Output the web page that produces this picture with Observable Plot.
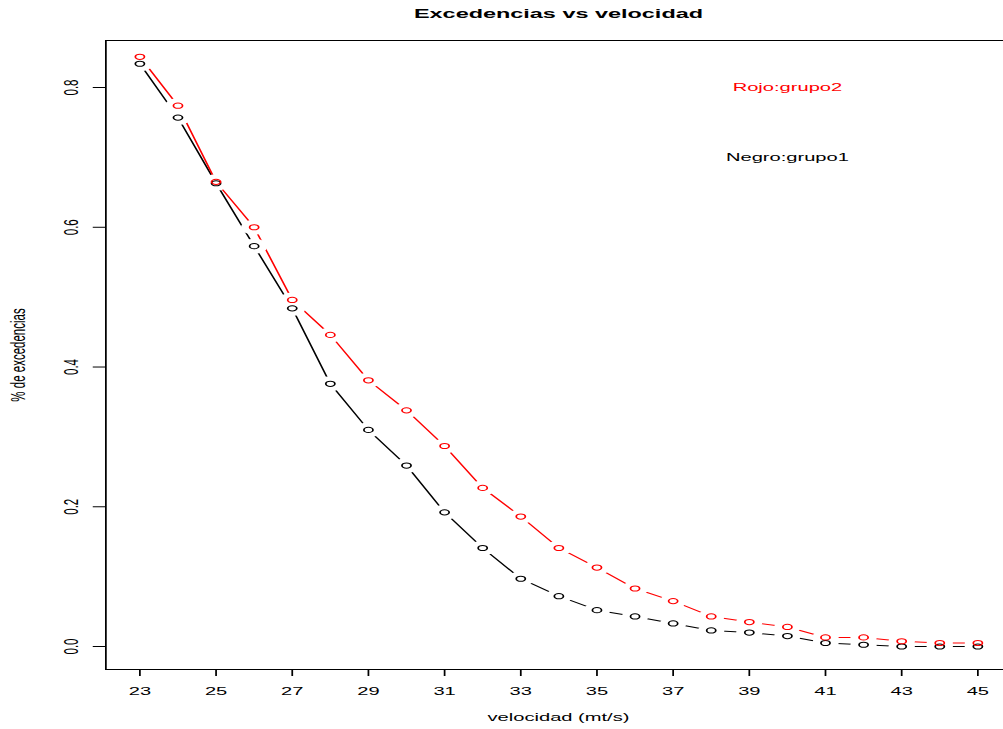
<!DOCTYPE html>
<html>
<head>
<meta charset="utf-8">
<script src="https://cdn.jsdelivr.net/npm/d3@7"></script>
<script src="https://cdn.jsdelivr.net/npm/@observablehq/plot@0.6"></script>
<style>
  html, body { margin: 0; padding: 0; background: white; }
  #chart { width: 1003px; height: 729px; overflow: hidden; }
</style>
</head>
<body>
<div id="chart"></div>
<script>
// ---- data ----
const velocidad = [23, 24, 25, 26, 27, 28, 29, 30, 31, 32, 33, 34, 35, 36, 37, 38, 39, 40, 41, 42, 43, 44, 45];
const grupo1 = [0.834, 0.757, 0.663, 0.573, 0.484, 0.376, 0.310, 0.259, 0.192, 0.141, 0.097, 0.072, 0.052, 0.043, 0.033, 0.023, 0.020, 0.015, 0.005, 0.0025, 0.0, 0.0, 0.0];
const grupo2 = [0.844, 0.774, 0.665, 0.600, 0.496, 0.446, 0.381, 0.338, 0.287, 0.227, 0.186, 0.141, 0.113, 0.083, 0.065, 0.043, 0.035, 0.028, 0.013, 0.013, 0.0075, 0.005, 0.005];
const xTicks = [23, 25, 27, 29, 31, 33, 35, 37, 39, 41, 43, 45];
const yTicks = [0, 0.2, 0.4, 0.6, 0.8];
const yTickLabels = ["0.0", "0.2", "0.4", "0.6", "0.8"];
const legendLabels = ["Rojo:grupo2", "Negro:grupo1"];
const legendColors = ["red", "black"];
const legendX = [40, 40];
const legendY = [0.8, 0.7];
const titleText = "Excedencias vs velocidad";
const xLabel = "velocidad (mt/s)";
const yLabel = "% de excedencias";

// ---- layout ----
const K = 1.75;                 // horizontal stretch of the reference image
const W = 1003 / K, H = 729;
const xDomain = [22.107, 45.683];
const yDomain = [-0.0329, 0.8673];
const xMid = 33.99;

const rows1 = velocidad.map((v, i) => ({v, p: grupo1[i], g: "grupo1"}));
const rows2 = velocidad.map((v, i) => ({v, p: grupo2[i], g: "grupo2"}));
const all = rows1.concat(rows2);
const legend = legendLabels.map((t, i) => ({t, c: legendColors[i], x: legendX[i], y: legendY[i]}));

const fs = 11.5;
const chart = Plot.plot({
  width: W,
  height: H,
  marginLeft: 105 / K,
  marginRight: 0,
  marginTop: 40,
  marginBottom: 60,
  style: {fontFamily: "'Liberation Sans', Arial, Helvetica, sans-serif", fontSize: fs + "px", background: "white", color: "black"},
  x: {domain: xDomain},
  y: {domain: yDomain},
  marks: [
    // box (left, top, bottom)
    Plot.ruleX([xDomain[0]], {stroke: "black", strokeWidth: 1}),
    Plot.ruleY([yDomain[0], yDomain[1]], {stroke: "black", strokeWidth: 1}),
    Plot.axisX(xTicks, {tickSize: 7, tickPadding: 10, fontSize: fs, label: null, tickFormat: d => String(d)}),
    Plot.axisY(yTicks, {tickSize: 7, tickFormat: () => "", label: null}),
    Plot.text(yTicks, {y: d => d, text: (d, i) => yTickLabels[i], frameAnchor: "left", textAnchor: "middle", lineAnchor: "middle", dx: 71 / K - 105 / K, rotate: -90, fontSize: fs}),
    // lines
    Plot.line(rows1, {x: "v", y: "p", stroke: "black", strokeWidth: 1}),
    Plot.line(rows2, {x: "v", y: "p", stroke: "red", strokeWidth: 1}),
    // gaps around points (R type = "b")
    Plot.dot(all, {x: "v", y: "p", r: 7.5, fill: "white", stroke: "none"}),
    // open circles
    Plot.dot(rows1, {x: "v", y: "p", r: 2.6, fill: "none", stroke: "black", strokeWidth: 1}),
    Plot.dot(rows2, {x: "v", y: "p", r: 2.6, fill: "none", stroke: "red", strokeWidth: 1}),
    // legend texts
    Plot.text(legend, {x: "x", y: "y", text: "t", fill: "c", fontSize: fs}),
    // titles
    Plot.text([titleText], {x: () => xMid, text: d => d, frameAnchor: "top", lineAnchor: "middle", dy: 13 - 40, fontWeight: "bold", fontSize: 13.4}),
    Plot.text([xLabel], {x: () => xMid, text: d => d, frameAnchor: "bottom", lineAnchor: "middle", dy: 717 - 669, fontSize: fs}),
    Plot.text([yLabel], {text: d => d, frameAnchor: "left", textAnchor: "middle", lineAnchor: "middle", dx: 18 / K - 105 / K, rotate: -90, fontSize: fs})
  ]
});

chart.setAttribute("width", 1003);
chart.setAttribute("height", 729);
chart.setAttribute("preserveAspectRatio", "none");
chart.style.maxWidth = "none";
chart.style.width = "1003px";
chart.style.height = "729px";
document.getElementById("chart").appendChild(chart);
</script>
</body>
</html>
